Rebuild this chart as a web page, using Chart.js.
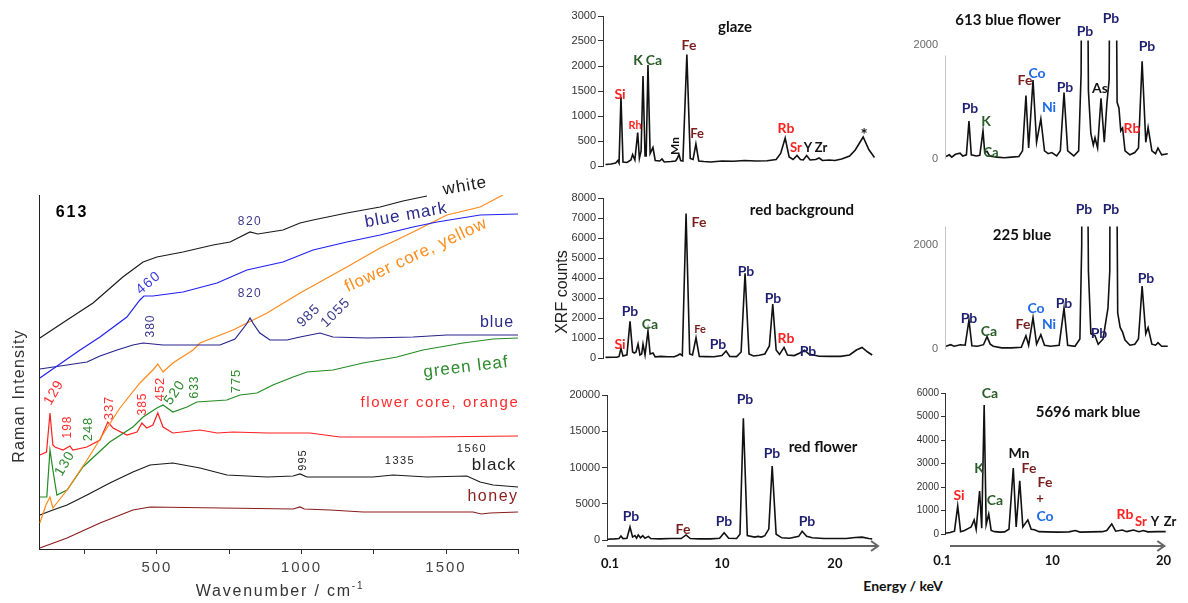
<!DOCTYPE html>
<html>
<head>
<meta charset="utf-8">
<script src="https://cdn.jsdelivr.net/npm/chart.js@4.4.1/dist/chart.umd.min.js"></script>
<style>
body { margin:0; background:#fff; width:1188px; height:603px; overflow:hidden; position:relative; font-family:"Liberation Sans", Arial, sans-serif; }
canvas { position:absolute; }
.lab { position:absolute; white-space:nowrap; line-height:1; z-index:5; }
</style>
</head>
<body>
<canvas id="raman"></canvas>
<canvas id="glaze"></canvas>
<canvas id="redbg"></canvas>
<canvas id="redfl"></canvas>
<canvas id="bf613"></canvas>
<canvas id="b225"></canvas>
<canvas id="m5696"></canvas>
<div class="lab" style="left:19px;top:396px;font-size:16px;letter-spacing:1.2px;color:#333;transform:translate(-50%,-50%) rotate(-90deg)">Raman Intensity</div>
<div class="lab" style="left:280px;top:590px;font-size:16px;letter-spacing:1.8px;color:#333;transform:translate(-50%,-50%)">Wavenumber / cm<sup style="font-size:10px">-1</sup></div>
<div class="lab" style="left:562px;top:292px;font-size:16px;color:#222;transform:translate(-50%,-50%) rotate(-90deg)">XRF counts</div>
<div class="lab" style="left:903px;top:585px;font:bold 14px Lato;color:#111;transform:translate(-50%,-50%)">Energy / keV</div>
<script>
// ---- Raman spectra (wavenumber, intensity a.u.) ----
const ramanWhite = [[95,211],[189,229],[279,246],[382,272],[452,287],[500,292],[590,297],[694,304],[753,307],[822,317],[849,315],[936,319],[995,326],[1040,329],[1157,336],[1272,342],[1351,348],[1434,353]];
const ramanBlueMark = [[95,171],[234,199],[303,212],[396,232],[441,249],[455,253],[486,253],[590,257],[708,266],[811,279],[936,287],[1040,299],[1157,307],[1272,314],[1386,322],[1469,327],[1618,334],[1749,335]];
const ramanBlue = [[95,180],[189,184],[258,187],[303,193],[362,199],[417,204],[452,206],[521,204],[718,204],[770,210],[810,225],[822,231],[834,225],[856,216],[891,209],[950,209],[995,212],[1064,216],[1109,212],[1227,211],[1386,212],[1503,214],[1749,214]];
const ramanYellow = [[95,26],[116,44],[130,52],[140,41],[189,59],[258,89],[327,121],[372,141],[441,166],[486,179],[503,185],[521,177],[555,186],[625,199],[649,206],[763,219],[881,236],[995,256],[1157,282],[1272,301],[1386,317],[1503,334],[1618,342],[1697,354]];
const ramanGreen = [[95,52],[119,52],[130,99],[140,79],[154,54],[189,59],[244,82],[337,107],[417,122],[452,132],[500,141],[521,144],[555,137],[604,142],[638,147],[742,149],[787,154],[846,156],[901,164],[971,172],[1019,177],[1109,179],[1213,186],[1330,192],[1420,199],[1559,206],[1663,210],[1749,211]];
const ramanOrange = [[95,94],[118,97],[130,136],[140,104],[147,102],[175,99],[199,103],[209,99],[258,102],[303,109],[330,127],[348,121],[396,114],[431,117],[448,126],[465,121],[486,124],[503,136],[521,122],[555,116],[649,119],[708,116],[763,117],[881,116],[1029,116],[1133,112],[1420,112],[1749,113]];
const ramanBlack = [[95,34],[140,39],[189,44],[258,54],[337,66],[417,77],[476,84],[555,86],[649,81],[742,74],[881,72],[971,73],[995,75],[1019,72],[1247,72],[1317,74],[1434,72],[1572,73],[1618,67],[1663,64],[1749,62]];
const ramanHoney = [[95,1],[189,11],[303,26],[417,39],[476,42],[971,40],[995,42],[1010,40],[1099,39],[1213,37],[1593,37],[1622,35],[1652,36],[1749,37]];
const ramanTicks = [250,500,750,1000,1250,1500,1750];

// ---- XRF spectra (energy keV, counts) ----
const glaze = [[-0.3,30],[0.2,40],[0.6,60],[0.8,110],[0.9,60],[1.07,1385],[1.25,80],[1.6,70],[1.95,120],[2.1,230],[2.3,120],[2.55,670],[2.7,150],[2.85,300],[3.02,1800],[3.2,200],[3.3,200],[3.46,2020],[3.65,250],[3.9,370],[4.1,110],[4.5,100],[4.7,140],[4.9,80],[5.5,90],[5.9,100],[6.05,150],[6.2,230],[6.35,110],[6.55,100],[6.9,2230],[7.2,150],[7.45,130],[7.7,440],[7.95,100],[8.4,90],[9,80],[10,100],[11,95],[12,110],[13,100],[14,105],[14.8,130],[15.2,250],[15.6,560],[15.95,180],[16.3,130],[16.65,210],[16.95,130],[17.2,120],[17.5,210],[17.8,120],[18.3,130],[18.6,160],[18.9,110],[19.5,120],[20,110],[20.6,140],[21.3,200],[21.8,320],[22.5,580],[23,330],[23.5,170]];
const redBackground = [[-0.3,30],[0.3,40],[0.7,40],[0.9,80],[1.07,480],[1.25,100],[1.6,160],[1.87,1830],[2.1,300],[2.25,250],[2.4,300],[2.58,700],[2.75,150],[2.9,200],[3.02,700],[3.2,150],[3.46,1350],[3.65,200],[3.9,250],[4.1,60],[4.6,80],[5.2,60],[5.8,60],[6.1,140],[6.3,200],[6.5,120],[6.83,7230],[7.15,200],[7.4,150],[7.71,1010],[8,80],[8.6,70],[9.3,60],[10,120],[10.37,350],[10.7,80],[11.3,70],[11.7,300],[12.05,4240],[12.4,200],[12.8,100],[13.3,140],[13.8,200],[14.2,600],[14.5,2700],[14.8,400],[15.1,180],[15.5,530],[15.8,150],[16.4,120],[16.9,250],[17.3,390],[17.7,200],[18.1,150],[18.6,90],[19.5,80],[20.5,80],[21.3,150],[21.9,400],[22.4,530],[22.9,300],[23.3,150]];
const redFlower = [[-0.1,100],[0.5,150],[0.9,200],[1.07,550],[1.25,200],[1.6,250],[1.87,1800],[2.1,400],[2.3,600],[2.45,250],[2.6,700],[2.8,300],[3.0,600],[3.2,250],[3.5,500],[3.7,200],[4.5,150],[5.5,200],[6.4,200],[6.83,700],[7.2,200],[8,150],[9,150],[9.8,250],[10.2,1000],[10.6,250],[11.3,200],[11.6,800],[11.9,16800],[12.25,600],[12.9,400],[13.2,500],[13.5,400],[13.8,600],[14.15,1500],[14.45,10200],[14.8,800],[15.3,300],[16,250],[16.8,500],[17.1,1200],[17.5,500],[18,300],[19,200],[20,200],[21,200],[21.8,350],[22.4,400],[23,200],[23.3,150]];
const blueFlower613 = [[0.43,50],[0.7,80],[0.9,40],[1.2,90],[1.58,110],[1.8,60],[2.1,80],[2.31,670],[2.5,80],[2.9,60],[3.2,70],[3.46,500],[3.6,120],[3.79,140],[4.0,60],[4.6,40],[5.2,30],[5.8,40],[6.4,50],[6.7,150],[6.98,1120],[7.2,200],[7.56,1390],[7.85,300],[8.2,710],[8.5,150],[8.8,100],[9.1,120],[9.5,60],[9.8,150],[10.1,1170],[10.4,150],[10.9,60],[11.3,150],[11.5,1500],[11.6,6000],[11.95,6000],[12.1,1200],[12.3,450],[12.5,250],[12.64,380],[12.85,200],[13.13,1070],[13.4,300],[13.62,1000],[13.8,1400],[13.9,6000],[14.3,6000],[14.45,1000],[14.6,900],[14.75,500],[14.9,550],[15.1,150],[15.5,80],[15.9,120],[16.2,200],[16.5,1720],[16.8,300],[16.99,560],[17.3,150],[17.6,100],[17.8,200],[18.1,80],[18.6,100]];
const blue225 = [[0.43,60],[0.8,90],[1.1,60],[1.6,90],[2.0,80],[2.31,560],[2.55,70],[3.0,60],[3.5,90],[3.79,245],[4.05,100],[4.3,60],[5.0,30],[5.8,30],[6.6,40],[6.98,260],[7.2,80],[7.56,610],[7.85,100],[8.2,280],[8.5,80],[9.0,60],[9.7,80],[10.1,790],[10.4,80],[11.0,60],[11.4,200],[11.55,2000],[11.6,6000],[11.95,6000],[12.1,1500],[12.3,300],[12.64,260],[12.9,100],[13.3,200],[13.7,790],[13.85,1500],[13.9,6000],[14.35,6000],[14.5,700],[14.7,420],[14.9,330],[15.1,180],[15.5,80],[15.9,100],[16.2,200],[16.5,1210],[16.8,300],[16.99,420],[17.3,100],[17.6,80],[17.8,130],[18.1,60],[18.6,60]];
const markBlue5696 = [[0.35,30],[0.8,60],[1.2,120],[1.49,1190],[1.75,100],[2.1,150],[2.5,250],[2.7,300],[2.97,600],[3.15,200],[3.46,1830],[3.65,250],[3.87,5490],[4.05,400],[4.28,850],[4.5,150],[4.8,100],[5.3,80],[5.7,90],[6.1,200],[6.49,2810],[6.75,300],[7.07,2260],[7.35,300],[7.8,600],[8.1,200],[8.4,180],[8.8,100],[9.5,90],[10.5,80],[11.5,90],[12.07,150],[12.5,80],[13.5,90],[14.5,100],[14.9,150],[15.35,430],[15.7,120],[16.3,170],[16.7,100],[17.3,170],[17.8,100],[18.2,150],[18.6,90],[19.5,100],[20.2,100]];
const glazeTicks = [0,500,1000,1500,2000,2500,3000];
const redBgTicks = [0,1000,2000,3000,4000,5000,6000,7000,8000];
const redFlowerTicks = [0,5000,10000,15000,20000];
const blueTicks = [0,2000];
const markTicks = [0,1000,2000,3000,4000,5000,6000];
const energyTicks = [0.1,10,20];

function place(cv, left, top, w, h) {
    cv.style.left = left + 'px'; cv.style.top = top + 'px';
    cv.width = w; cv.height = h;
    cv.style.width = w + 'px'; cv.style.height = h + 'px';
}
const pts = rows => rows.map(r => ({x: r[0], y: r[1]}));

const arrowPlugin = {
    id: 'arrow',
    afterDraw(chart, args, o) {
        if (!o.on) return;
        const {ctx, chartArea: a} = chart;
        const y = a.bottom + o.dy, x0 = a.left + o.dx, x1 = a.right - 2;
        ctx.save();
        ctx.strokeStyle = '#666'; ctx.lineWidth = 2;
        ctx.beginPath(); ctx.moveTo(x0, y); ctx.lineTo(x1, y); ctx.stroke();
        ctx.beginPath(); ctx.moveTo(x1 - 7, y - 5); ctx.lineTo(x1, y); ctx.lineTo(x1 - 7, y + 5); ctx.stroke();
        ctx.restore();
    }
};
// light y axis of the right column starts a little below the top of the plot
const shortAxis = {
    id: 'shortAxis',
    afterDraw(chart, args, o) {
        if (!o.on) return;
        const {ctx, chartArea: a, scales} = chart;
        ctx.save();
        ctx.strokeStyle = o.color; ctx.lineWidth = 1;
        ctx.beginPath();
        ctx.moveTo(a.left + 0.5, scales.y.getPixelForValue(o.from));
        ctx.lineTo(a.left + 0.5, a.bottom);
        ctx.stroke();
        ctx.restore();
    }
};
const spacing = { id: 'spacing', beforeDraw(c) { c.ctx.letterSpacing = '2px'; } };

// Raman chart
const rcv = document.getElementById('raman');
place(rcv, 0, 185, 530, 415);
const line = (rows, color) => ({data: pts(rows), borderColor: color, borderWidth: 1.2, pointRadius: 0, tension: 0});
new Chart(rcv, {
    type: 'line',
    data: { datasets: [
        line(ramanWhite, '#1a1a1a'), line(ramanBlueMark, '#2020f0'), line(ramanBlue, '#24248c'),
        line(ramanYellow, '#ff8a1c'), line(ramanGreen, '#228b22'), line(ramanOrange, '#ff2020'),
        line(ramanBlack, '#1a1a1a'), line(ramanHoney, '#8b1c1c')
    ]},
    options: {
        responsive: false, animation: false, events: [],
        layout: { autoPadding: false, padding: {top: 10, right: 12, bottom: 0, left: 0} },
        plugins: { legend: {display: false}, tooltip: {enabled: false} },
        scales: {
            x: { type: 'linear', min: 92, max: 1749,
                afterFit: s => { s.height = 51; },
                afterBuildTicks: s => { s.ticks = ramanTicks.map(v => ({value: v})); },
                grid: {display: true, drawOnChartArea: false, drawTicks: true, tickLength: 5, color: '#333'},
                border: {display: true, color: '#222'},
                ticks: {padding: 5, color: '#444', font: {family: 'Liberation Sans', size: 15}, autoSkip: false, maxRotation: 0,
                    callback: v => v % 500 === 0 ? String(v) : ''} },
            y: { min: 0, max: 354,
                afterFit: s => { s.width = 39; },
                grid: {display: false},
                border: {display: true, color: '#222'},
                ticks: {display: false} }
        }
    },
    plugins: [spacing]
});

// XRF charts
function xrf(id, rows, yTicks, b) {
    const cv = document.getElementById(id);
    const padL = 40, padT = 10, below = b.xLabels ? 34 : 6;
    const left = b.axis - padL, top = b.top - padT;
    place(cv, left, top, b.right - left + 2, b.bottom - top + below);
    new Chart(cv, {
        type: 'line',
        data: { datasets: [{ data: pts(rows), borderColor: '#111', borderWidth: 1.6, pointRadius: 0, tension: 0,
            clip: {left: 2, top: 0, right: 2, bottom: 4} }] },
        options: {
            responsive: false, animation: false, events: [],
            layout: { autoPadding: false, padding: {top: padT, right: 2, bottom: b.xLabels ? 0 : below, left: 0} },
            plugins: { legend: {display: false}, tooltip: {enabled: false}, arrow: b.arrow || {on: false},
                shortAxis: b.axisFrom ? {on: true, from: b.axisFrom, color: b.axisColor} : {on: false} },
            scales: {
                x: { type: 'linear', min: b.xmin, max: b.xmax, display: !!b.xLabels,
                    afterFit: s => { s.height = below; },
                    afterBuildTicks: s => { s.ticks = (b.xLabels || []).map(v => ({value: v})); },
                    grid: {display: false, drawTicks: false}, border: {display: false},
                    ticks: {padding: b.xpad || 16, color: '#111', font: {family: 'Lato', size: 13, weight: 'bold'},
                        autoSkip: false, maxRotation: 0, callback: v => String(v)} },
                y: { min: b.ymin, max: b.ymax,
                    afterFit: s => { s.width = padL; },
                    afterBuildTicks: s => { s.ticks = yTicks.map(v => ({value: v})); },
                    grid: {display: true, drawOnChartArea: false, drawTicks: b.tick > 0, tickLength: b.tick, color: b.axisColor},
                    border: {display: !b.axisFrom, color: b.axisColor, width: 1},
                    ticks: {padding: b.tpad, color: b.labColor, font: {family: 'Liberation Sans', size: b.fs}, autoSkip: false,
                        callback: v => String(v)} }
            }
        },
        plugins: [arrowPlugin, shortAxis]
    });
}
const dark = {tick: 5, tpad: 2, fs: 11, axisColor: '#333', labColor: '#333'};
const light = {tick: 0, tpad: 7, fs: 11, axisColor: '#c4c4c4', labColor: '#666'};
xrf('glaze', glaze, glazeTicks, {...dark, axis: 603, right: 880, top: 16, bottom: 172, xmin: -0.52, xmax: 23.99, ymin: 0, ymax: 3000});
xrf('redbg', redBackground, redBgTicks, {...dark, axis: 603, right: 880, top: 198, bottom: 364, xmin: -0.52, xmax: 23.99, ymin: 0, ymax: 8000});
xrf('redfl', redFlower, redFlowerTicks, {...dark, axis: 607, right: 880, top: 395, bottom: 540, xmin: -0.165, xmax: 23.99, ymin: 0, ymax: 20000,
    xLabels: energyTicks, xpad: 16, arrow: {on: true, dy: 6, dx: 0}});
xrf('bf613', blueFlower613, blueTicks, {...light, axis: 945, right: 1188, top: 37, bottom: 167, xmin: 0.346, xmax: 20.26, ymin: 0, ymax: 2080, axisFrom: 1820});
xrf('b225', blue225, blueTicks, {...light, axis: 945, right: 1188, top: 223, bottom: 357, xmin: 0.346, xmax: 20.26, ymin: 0, ymax: 2350, axisFrom: 2350});
xrf('m5696', markBlue5696, markTicks, {...dark, fs: 10, tick: 4, axis: 945, right: 1188, top: 393, bottom: 534, xmin: 0.346, xmax: 20.26, ymin: 0, ymax: 6000,
    xLabels: energyTicks, xpad: 19, arrow: {on: true, dy: 12, dx: 5}});

// ---- annotation text ----
const RED = '#ff2020', GRN = '#2a5d2a', FE = '#7a1f1f', PB = '#1f1f72', CO = '#1f6ae6', BLK = '#111';
const ramanLabels = [
    ['white', 465, 186, '#1a1a1a', 17, -10, 1], ['blue mark', 406, 215, '#2b2b8c', 17, -10, 1],
    ['flower core, yellow', 416, 255, '#ff8c1a', 17, -25, 0.8],
    ['820', 250, 221, '#3a3a8c', 12, 0, 1.5], ['460', 148, 282, '#3b3bdb', 14, -40, 1.5],
    ['820', 250, 293, '#3a3a8c', 12, 0, 1.5], ['380', 150, 326, '#3a3a8c', 12, -90, 1],
    ['985', 308, 315, '#3a3a8c', 14, -45, 1], ['1055', 335, 312, '#3a3a8c', 14, -45, 1],
    ['blue', 497, 322, '#2b2b8c', 16, 0, 1], ['green leaf', 466, 367, '#2e8b2e', 17, -7, 1],
    ['flower core, orange', 440, 401, '#ff2a2a', 15, 0, 1.6],
    ['129', 53, 392, '#ff3030', 14, -60, 1], ['198', 67, 427, '#ff3030', 12, -90, 1],
    ['337', 108, 408, '#ff3030', 13, -90, 1], ['385', 142, 404, '#ff3030', 12, -90, 1],
    ['452', 159, 389, '#ff3030', 13, -90, 1],
    ['130', 64, 463, '#2e8b2e', 14, -60, 1], ['248', 87, 429, '#2e8b2e', 13, -90, 1],
    ['520', 174, 392, '#2e8b2e', 14, -55, 1], ['633', 194, 387, '#2e8b2e', 12, -90, 1],
    ['775', 235, 381, '#2e8b2e', 13, -90, 1],
    ['1560', 472, 448, '#222', 11, 0, 1.5], ['1335', 400, 460, '#222', 11, 0, 1.5], ['995', 302, 460, '#222', 11, -90, 1],
    ['black', 494, 465, '#222', 17, 0, 1], ['honey', 493, 496, '#8b2020', 16, 0, 1.5]
];
const xrfLabels = [
    ['glaze', 735, 26, BLK, 15], ['Si', 620, 93, RED, 14], ['Rh', 635, 124, RED, 11], ['K', 638, 59, GRN, 14], ['Ca', 654, 59, GRN, 14],
    ['Mn', 674, 146, BLK, 12, -90], ['Fe', 689, 44, FE, 14], ['Fe', 697, 133, FE, 13], ['Rb', 786, 127, RED, 14],
    ['Sr', 796, 147, RED, 13], ['Y', 808, 147, BLK, 13], ['Zr', 821, 147, BLK, 13], ['*', 864, 134, BLK, 17],

    ['red background', 802, 209, BLK, 15], ['Si', 620, 343, RED, 14], ['Pb', 630, 310, PB, 14], ['Ca', 650, 323, GRN, 14],
    ['Fe', 699, 221, FE, 14], ['Fe', 700, 328, FE, 11], ['Pb', 718, 343, PB, 14], ['Pb', 746, 270, PB, 14],
    ['Pb', 773, 297, PB, 14], ['Rb', 786, 337, RED, 14], ['Pb', 808, 350, PB, 14],

    ['red flower', 823, 446, BLK, 15], ['Pb', 631, 515, PB, 14], ['Fe', 683, 528, FE, 14], ['Pb', 724, 520, PB, 14],
    ['Pb', 745, 398, PB, 14], ['Pb', 772, 452, PB, 14], ['Pb', 807, 520, PB, 14],

    ['613 blue flower', 1008, 19, BLK, 15], ['Pb', 970, 107, PB, 14], ['K', 986, 120, GRN, 14], ['Ca', 991, 152, GRN, 13],
    ['Fe', 1025, 79, FE, 14], ['Co', 1037, 72, CO, 14], ['Ni', 1049, 106, CO, 14], ['Pb', 1065, 86, PB, 14],
    ['Pb', 1085, 30, PB, 14], ['As', 1100, 87, BLK, 14], ['Pb', 1111, 17, PB, 14], ['Rb', 1132, 127, RED, 14], ['Pb', 1147, 45, PB, 14],

    ['225 blue', 1022, 234, BLK, 15], ['Pb', 969, 317, PB, 14], ['Ca', 989, 330, GRN, 14], ['Fe', 1023, 323, FE, 14],
    ['Co', 1036, 307, CO, 14], ['Ni', 1049, 323, CO, 14], ['Pb', 1064, 302, PB, 14], ['Pb', 1084, 208, PB, 14],
    ['Pb', 1099, 332, PB, 14], ['Pb', 1111, 208, PB, 14], ['Pb', 1146, 277, PB, 14],

    ['5696 mark blue', 1088, 411, BLK, 15], ['Ca', 990, 392, GRN, 14], ['K', 979, 467, GRN, 14], ['Si', 959, 494, RED, 14],
    ['Ca', 995, 499, GRN, 14], ['Mn', 1019, 452, BLK, 14], ['Fe', 1029, 467, FE, 14], ['Fe', 1045, 481, FE, 14],
    ['+', 1040, 498, FE, 13], ['Co', 1045, 515, CO, 14], ['Rb', 1125, 513, RED, 14], ['Sr', 1141, 521, RED, 13],
    ['Y', 1155, 521, BLK, 13], ['Zr', 1170, 521, BLK, 13]
];
function put(list, family, weight) {
    for (const [t, x, y, c, s, r = 0, ls = 0] of list) {
        const d = document.createElement('div');
        d.className = 'lab';
        d.textContent = t;
        d.style.left = x + 'px'; d.style.top = y + 'px'; d.style.color = c;
        d.style.font = `${weight} ${s}px ${family}`;
        d.style.letterSpacing = ls + 'px';
        d.style.transform = `translate(-50%,-50%) rotate(${r}deg)`;
        document.body.appendChild(d);
    }
}
put(ramanLabels, '"Liberation Sans", Arial', 'normal');
put([['613', 72, 212, '#000', 16, 0, 2]], '"Liberation Sans", Arial', 'bold');
put(xrfLabels, 'Lato', 'bold');
</script>
</body>
</html>
